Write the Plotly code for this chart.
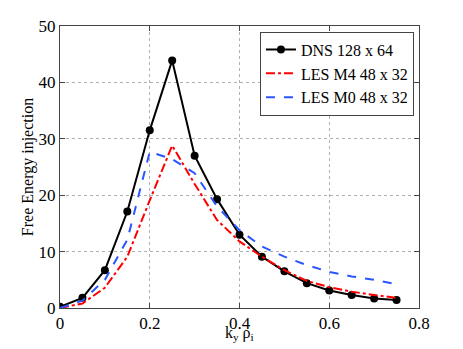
import plotly.graph_objects as go

ky = [0.0, 0.05, 0.10, 0.15, 0.20, 0.25, 0.30, 0.35, 0.40, 0.45, 0.50, 0.55, 0.60, 0.65, 0.70, 0.75]
dns = [0.2, 1.8, 6.7, 17.1, 31.5, 43.9, 27.0, 19.3, 13.0, 9.1, 6.5, 4.4, 3.1, 2.3, 1.7, 1.4]
les_m4 = [0.0, 0.8, 3.6, 9.1, 19.1, 28.8, 22.0, 15.6, 11.8, 9.1, 6.7, 4.8, 3.7, 2.9, 2.3, 1.8]
les_m0 = [0.0, 1.3, 5.0, 12.1, 27.7, 26.4, 23.9, 18.0, 13.8, 10.9, 9.1, 7.6, 6.4, 5.6, 5.0, 4.2]

names = ["DNS 128 x 64", "LES M4 48 x 32", "LES M0 48 x 32"]
x_ticks = [0, 0.2, 0.4, 0.6, 0.8]
x_tick_text = ["0", "0.2", "0.4", "0.6", "0.8"]
y_ticks = [0, 10, 20, 30, 40, 50]

FONT = "Liberation Serif, Times New Roman, serif"

fig = go.Figure()
fig.add_trace(go.Scatter(x=ky, y=dns, name=names[0], mode="lines+markers",
                         line=dict(color="black", width=2),
                         marker=dict(color="black", size=8, symbol="circle")))
fig.add_trace(go.Scatter(x=ky, y=les_m4, name=names[1], mode="lines",
                         line=dict(color="#ff0000", width=2, dash="dashdot")))
fig.add_trace(go.Scatter(x=ky, y=les_m0, name=names[2], mode="lines",
                         line=dict(color="#2a55ff", width=2, dash="dash")))

axis_common = dict(showline=True, linecolor="#444", linewidth=1, mirror="ticks",
                   ticks="inside", ticklen=5, tickcolor="#444",
                   showgrid=True, gridcolor="#b0b0b0", griddash="dot", gridwidth=1,
                   zeroline=False, automargin=False,
                   tickfont=dict(family=FONT, size=17, color="black"))

fig.update_layout(
    width=463, height=349,
    margin=dict(l=52, r=52, t=18, b=49),
    paper_bgcolor="white", plot_bgcolor="white",
    font=dict(family=FONT, size=16, color="black"),
    xaxis=dict(range=[0, 0.8], tickvals=x_ticks, ticktext=x_tick_text, **axis_common),
    yaxis=dict(range=[0, 50], tickvals=y_ticks,
               title=dict(text="Free Energy injection", font=dict(family=FONT, size=16), standoff=0),
               **axis_common),
    legend=dict(x=0.557, y=0.98, xanchor="left", yanchor="top",
                bgcolor="white", bordercolor="#444", borderwidth=1,
                font=dict(family=FONT, size=16), tracegroupgap=0,
                itemwidth=30),
    showlegend=True,
)

fig.add_annotation(x=0.4, xref="x", y=-0.09, yref="paper", yanchor="middle",
                   text="k<sub>y</sub> ρ<sub>i</sub>", showarrow=False,
                   font=dict(family=FONT, size=16, color="black"))

fig.write_html("out.html")
